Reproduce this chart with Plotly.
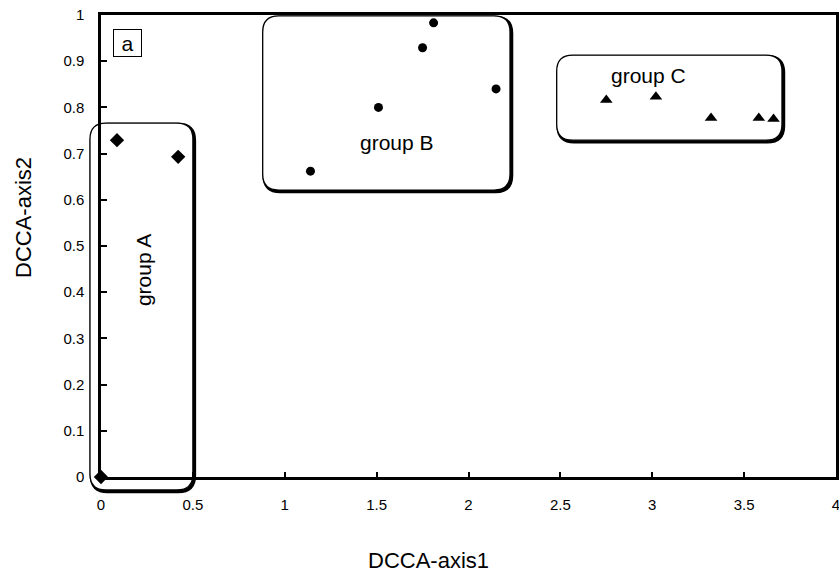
import plotly.graph_objects as go

# ---- data ----
groupA_x = [0.0, 0.087, 0.42]
groupA_y = [0.0, 0.729, 0.693]
groupB_x = [1.14, 1.51, 1.75, 1.81, 2.15]
groupB_y = [0.662, 0.80, 0.929, 0.983, 0.84]
groupC_x = [2.75, 3.02, 3.32, 3.58, 3.66]
groupC_y = [0.816, 0.823, 0.777, 0.777, 0.775]

x_ticks = [0, 0.5, 1, 1.5, 2, 2.5, 3, 3.5, 4]
y_ticks = [0, 0.1, 0.2, 0.3, 0.4, 0.5, 0.6, 0.7, 0.8, 0.9, 1]

# group enclosures (data coords): x0, x1, y0, y1
boxes = {
    "A": (-0.06, 0.50, -0.028, 0.766),
    "B": (0.88, 2.226, 0.621, 0.998),
    "C": (2.48, 3.706, 0.729, 0.913),
}
labels = {
    "group A": (0.229, 0.448, -90),
    "group B": (1.61, 0.723, 0),
    "group C": (2.977, 0.868, 0),
}

XR = [0, 4]
YR = [0, 1]
ML, MR, MT, MB = 101, 3, 15, 98
W, H = 839, 575
PW = W - ML - MR
PH = H - MT - MB

FONT = "Liberation Sans, Arial, sans-serif"


def px(x):
    return (x - XR[0]) / (XR[1] - XR[0])


def py(y):
    return (y - YR[0]) / (YR[1] - YR[0])


def rrect(x0, x1, y0, y1, r=16, dx=0.0, dy=0.0):
    # rounded rectangle in paper coords, radius r pixels
    X0, X1 = px(x0) + dx / PW, px(x1) + dx / PW
    Y0, Y1 = py(y0) - dy / PH, py(y1) - dy / PH
    rx, ry = r / PW, r / PH
    return (f"M {X0+rx},{Y1} L {X1-rx},{Y1} Q {X1},{Y1} {X1},{Y1-ry} "
            f"L {X1},{Y0+ry} Q {X1},{Y0} {X1-rx},{Y0} "
            f"L {X0+rx},{Y0} Q {X0},{Y0} {X0},{Y0+ry} "
            f"L {X0},{Y1-ry} Q {X0},{Y1} {X0+rx},{Y1} Z")


fig = go.Figure()
fig.add_trace(go.Scatter(x=groupA_x, y=groupA_y, mode="markers",
                         marker=dict(symbol="diamond", size=11, color="black"),
                         cliponaxis=False, showlegend=False))
fig.add_trace(go.Scatter(x=groupB_x, y=groupB_y, mode="markers",
                         marker=dict(symbol="circle", size=9, color="black"),
                         cliponaxis=False, showlegend=False))
fig.add_trace(go.Scatter(x=groupC_x, y=groupC_y, mode="markers",
                         marker=dict(symbol="triangle-up", size=11, color="black"),
                         cliponaxis=False, showlegend=False))

shapes = []
for k, (x0, x1, y0, y1) in boxes.items():
    shapes.append(dict(type="path", xref="paper", yref="paper", layer="below",
                       path=rrect(x0, x1, y0, y1, dx=1.5, dy=1.5),
                       line=dict(color="black", width=3.5)))
    shapes.append(dict(type="path", xref="paper", yref="paper", layer="below",
                       path=rrect(x0, x1, y0, y1),
                       fillcolor="white",
                       line=dict(color="black", width=1.3)))

annotations = []
for t, (x, y, a) in labels.items():
    annotations.append(dict(x=x, y=y, xref="x", yref="y", text=t, showarrow=False,
                            xanchor="center", yanchor="middle",
                            textangle=a, font=dict(family=FONT, size=21, color="black")))
annotations.append(dict(x=0.146, y=0.94, xref="x", yref="y", text="a", showarrow=False,
                        xanchor="center", yanchor="middle",
                        width=27, height=26, borderpad=0, bordercolor="black",
                        borderwidth=1, bgcolor="white",
                        font=dict(family=FONT, size=21, color="black")))
# axis titles
annotations.append(dict(x=(428 - ML) / PW, y=-(560 - (MT + PH)) / PH, xref="paper", yref="paper",
                        text="DCCA-axis1", showarrow=False,
                        xanchor="center", yanchor="middle",
                        font=dict(family=FONT, size=22, color="black")))
annotations.append(dict(x=(23 - ML) / PW, y=((MT + PH) - 218) / PH, xref="paper", yref="paper",
                        text="DCCA-axis2", showarrow=False, textangle=-90,
                        xanchor="center", yanchor="middle",
                        font=dict(family=FONT, size=22, color="black")))

fig.update_layout(
    width=W, height=H,
    margin=dict(l=ML, r=MR, t=MT, b=MB, autoexpand=False),
    paper_bgcolor="white", plot_bgcolor="white",
    shapes=shapes, annotations=annotations,
    font=dict(family=FONT, color="black"),
    xaxis=dict(range=XR, tickvals=x_ticks, ticktext=[str(v) for v in x_ticks],
               showgrid=False, zeroline=False, showline=True, mirror=True,
               linecolor="black", linewidth=2.5, ticks="inside", ticklen=5,
               tickwidth=2, tickcolor="black", ticklabelstandoff=12,
               ticklabeloverflow="allow", automargin=False,
               tickfont=dict(family=FONT, size=15)),
    yaxis=dict(range=YR, tickvals=y_ticks, ticktext=[str(v) for v in y_ticks],
               showgrid=False, zeroline=False, showline=True, mirror=True,
               linecolor="black", linewidth=2.5, ticks="inside", ticklen=6,
               tickwidth=2, tickcolor="black", ticklabelstandoff=11,
               ticklabeloverflow="allow", automargin=False,
               tickfont=dict(family=FONT, size=15)),
)

fig.write_html("out.html", config={"displayModeBar": False},
               post_script="document.body.style.margin='0';document.body.style.overflow='hidden';")
